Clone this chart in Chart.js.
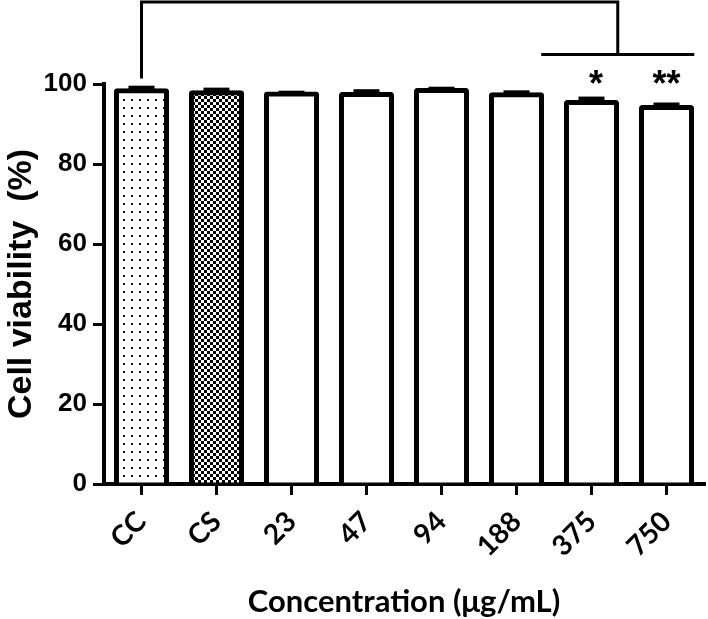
<!DOCTYPE html>
<html>
<head>
<meta charset="utf-8">
<script src="https://cdn.jsdelivr.net/npm/chart.js@4.4.1/dist/chart.umd.min.js"></script>
<style>
  html, body { margin: 0; padding: 0; background: #fff; }
  #wrap { width: 708px; height: 619px; }
</style>
</head>
<body>
<div id="wrap"><canvas id="c" width="708" height="619"></canvas></div>
<script>
// ---- data ----
const categories = ['CC', 'CS', '23', '47', '94', '188', '375', '750'];
const viability = [98.3, 97.8, 97.5, 97.4, 98.4, 97.3, 95.4, 94.1];
const errorUpper = [0.65, 0.67, 0.2, 0.67, 0.3, 0.5, 0.83, 0.65];
const yTickValues = [0, 20, 40, 60, 80, 100];
const significance = [{ index: 6.06, text: '*' }, { index: 7, text: '**' }];
// bracket levels in data units (above the plotted range)
const bracketTop = 120.5;
const bracketLeftEnd = 101.75;
const subLineLevel = 107.4;
const subLineFrom = 5.33, subLineTo = 7.37, bracketRightAt = 6.35;
const starBaseline = 97.0;

// ---- patterns ----
function dotPattern() {
  const c = document.createElement('canvas');
  c.width = 8; c.height = 8;
  const g = c.getContext('2d');
  g.fillStyle = '#fff'; g.fillRect(0, 0, 8, 8);
  g.fillStyle = '#111'; g.fillRect(3, 3, 2, 2);
  return g.createPattern(c, 'repeat');
}
function checkerPattern() {
  const c = document.createElement('canvas');
  c.width = 6; c.height = 6;
  const g = c.getContext('2d');
  g.fillStyle = '#fff'; g.fillRect(0, 0, 6, 6);
  g.fillStyle = '#000'; g.fillRect(0, 0, 3, 3); g.fillRect(3, 3, 3, 3);
  return g.createPattern(c, 'repeat');
}
const fills = categories.map((c, i) => i === 0 ? dotPattern() : (i === 1 ? checkerPattern() : '#ffffff'));

const annotations = {
  id: 'annotations',
  afterDatasetsDraw(chart) {
    const { ctx, scales: { x, y } } = chart;
    ctx.save();
    ctx.fillStyle = '#000';
    viability.forEach((v, i) => {
      const cx = x.getPixelForValue(i);
      const yv = y.getPixelForValue(v);
      const ye = y.getPixelForValue(v + errorUpper[i]);
      ctx.fillRect(cx - 2.5, ye, 5, yv - ye);
      ctx.fillRect(cx - 13, ye - 2.5, 26, 5);
    });
    ctx.restore();
  },
  afterDraw(chart) {
    const { ctx, scales: { x, y } } = chart;
    ctx.save();
    ctx.strokeStyle = '#000';
    ctx.lineWidth = 3;
    ctx.lineCap = 'square';
    const yt = y.getPixelForValue(bracketTop);
    const ys = y.getPixelForValue(subLineLevel);
    ctx.beginPath();
    ctx.moveTo(x.getPixelForValue(0), y.getPixelForValue(bracketLeftEnd));
    ctx.lineTo(x.getPixelForValue(0), yt);
    ctx.lineTo(x.getPixelForValue(bracketRightAt), yt);
    ctx.lineTo(x.getPixelForValue(bracketRightAt), ys);
    ctx.stroke();
    ctx.lineCap = 'butt';
    ctx.beginPath();
    ctx.moveTo(x.getPixelForValue(subLineFrom), ys);
    ctx.lineTo(x.getPixelForValue(subLineTo), ys);
    ctx.stroke();
    ctx.fillStyle = '#000';
    ctx.font = 'bold 36px "Liberation Sans", Arial, sans-serif';
    ctx.textAlign = 'center';
    ctx.textBaseline = 'alphabetic';
    significance.forEach(s => {
      ctx.fillText(s.text, x.getPixelForValue(s.index), y.getPixelForValue(starBaseline));
    });
    ctx.restore();
  }
};

new Chart(document.getElementById('c'), {
  type: 'bar',
  data: {
    labels: categories,
    datasets: [{
      data: viability,
      backgroundColor: fills,
      borderColor: '#000',
      borderWidth: 5,
      borderSkipped: 'start',
      inflateAmount: 2.5,
      borderRadius: 3,
      categoryPercentage: 1,
      barPercentage: 0.667
    }]
  },
  options: {
    responsive: false,
    devicePixelRatio: 1,
    animation: false,
    layout: { padding: { top: 84, right: 4, left: 0, bottom: 0 } },
    plugins: { legend: { display: false }, tooltip: { enabled: false } },
    scales: {
      x: {
        z: 1,
        offset: true,
        afterFit(scale) { scale.height = 135; },
        border: { display: true, color: '#000', width: 4 },
        grid: { offset: false, drawOnChartArea: false, drawTicks: true, tickLength: 11, lineWidth: 3, color: '#000' },
        ticks: {
          color: '#000',
          font: { family: 'Lato, "Open Sans", sans-serif', weight: 'bold', size: 28 },
          minRotation: 45, maxRotation: 45,
          padding: 10,
          autoSkip: false
        },
        title: {
          display: true,
          text: 'Concentration (\u03bcg/mL)',
          color: '#000',
          font: { family: 'Lato, "Open Sans", sans-serif', weight: 'bold', size: 31, lineHeight: 1 },
          padding: { top: 0, bottom: 2 }
        }
      },
      y: {
        z: 1,
        min: 0,
        max: 100,
        afterFit(scale) { scale.width = 104; },
        afterBuildTicks(scale) { scale.ticks = yTickValues.map(v => ({ value: v })); },
        border: { display: true, color: '#000', width: 4 },
        grid: { drawOnChartArea: false, drawTicks: true, tickLength: 11, lineWidth: 3, color: '#000' },
        ticks: {
          color: '#000',
          font: { family: '"Liberation Sans", Arial, sans-serif', weight: 'bold', size: 26 },
          padding: 6
        },
        title: {
          display: true,
          text: 'Cell viability  (%)',
          color: '#000',
          font: { family: '"Liberation Sans", Arial, sans-serif', weight: 'bold', size: 34, lineHeight: 1.2 },
          padding: { top: 1, bottom: 0 }
        }
      }
    }
  },
  plugins: [annotations]
});
</script>
</body>
</html>
